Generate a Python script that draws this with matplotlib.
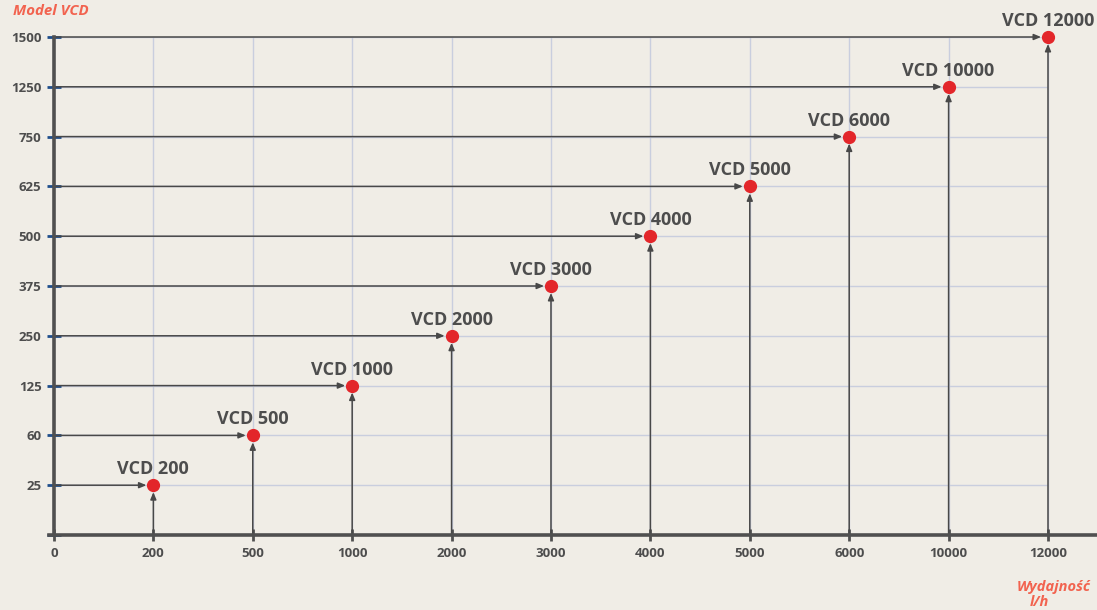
import numpy as np
import matplotlib
matplotlib.use("Agg")
import matplotlib.pyplot as plt

# chart data
x_labels = ["0", "200", "500", "1000", "2000", "3000", "4000", "5000", "6000", "10000", "12000"]
y_labels = ["", "25", "60", "125", "250", "375", "500", "625", "750", "1250", "1500"]
models = ["VCD 200", "VCD 500", "VCD 1000", "VCD 2000", "VCD 3000",
          "VCD 4000", "VCD 5000", "VCD 6000", "VCD 10000", "VCD 12000"]
flow = ["200", "500", "1000", "2000", "3000", "4000", "5000", "6000", "10000", "12000"]
size = ["25", "60", "125", "250", "375", "500", "625", "750", "1250", "1500"]

plt.rcParams['font.family'] = ['Open Sans', 'DejaVu Sans']

bg = "#f0ede6"
dark = "#4d4d4d"
salmon = "#f2634f"

fig = plt.figure(figsize=(10.97, 6.10), dpi=100, facecolor=bg)
ax = fig.add_axes([49 / 1097, 75 / 610, 1048.7 / 1097, 498 / 610])
ax.set_facecolor(bg)

xi = [x_labels.index(v) for v in flow]
yi = [y_labels.index(v) for v in size]

ax.set_xlim(-0.05, 10.5)
ax.set_ylim(0, 10)

# grid only inside the 0..10 box
ax.hlines(range(1, len(y_labels)), 0, len(x_labels) - 1, color="#c9cede", lw=1, zorder=0)
ax.vlines(range(1, len(x_labels)), 0, len(y_labels) - 1, color="#c9cede", lw=1, zorder=0)

for spine in ["top", "right"]:
    ax.spines[spine].set_visible(False)
ax.spines["left"].set_position(("data", 0))
ax.spines["left"].set_bounds(0, 10)
for spine in ["left", "bottom"]:
    ax.spines[spine].set_color("#505050")
    ax.spines[spine].set_linewidth(2.6)

ax.set_xticks(range(len(x_labels)))
ax.set_xticklabels(x_labels)
ax.set_yticks(range(len(y_labels)))
ax.set_yticklabels(y_labels)
ax.tick_params(axis="x", direction="inout", length=9, width=2, color="#505050",
               labelsize=9.5, labelcolor=dark, pad=4)
ax.tick_params(axis="y", direction="inout", length=10, width=2, color="#1f4e8c",
               labelsize=9.5, labelcolor=dark, pad=4)
for lab in ax.get_xticklabels() + ax.get_yticklabels():
    lab.set_fontweight("bold")

arrow = dict(arrowstyle="-|>,head_length=0.6,head_width=0.25", color="#484848",
             lw=1.1, shrinkA=0, shrinkB=5, mutation_scale=7)
for x, y, name in zip(xi, yi, models):
    ax.annotate("", xy=(x, y), xytext=(0, y), arrowprops=arrow, zorder=2)
    ax.annotate("", xy=(x, y), xytext=(x, 0), arrowprops=arrow, zorder=2)
    ax.annotate(name, xy=(x, y), xytext=(0, 5), textcoords="offset points",
                ha="center", va="bottom", fontsize=13, fontweight="bold",
                color=dark, annotation_clip=False)

ax.plot(xi, yi, "o", color="#e3262a", markersize=8.5, zorder=4, clip_on=False)

fig.text(13 / 1097, 1 - 15 / 610, "Model VCD", color=salmon, fontsize=10.8,
         fontweight="bold", fontstyle="italic", ha="left", va="baseline")
fig.text(1091 / 1097, 1 - 591 / 610, "Wydajność", color=salmon, fontsize=10.5,
         fontweight="bold", fontstyle="italic", ha="right", va="baseline")
fig.text(1030 / 1097, 1 - 606 / 610, "l/h", color=salmon, fontsize=10.5,
         fontweight="bold", fontstyle="italic", ha="left", va="baseline")

fig.savefig("out.png", dpi=100, facecolor=bg)
